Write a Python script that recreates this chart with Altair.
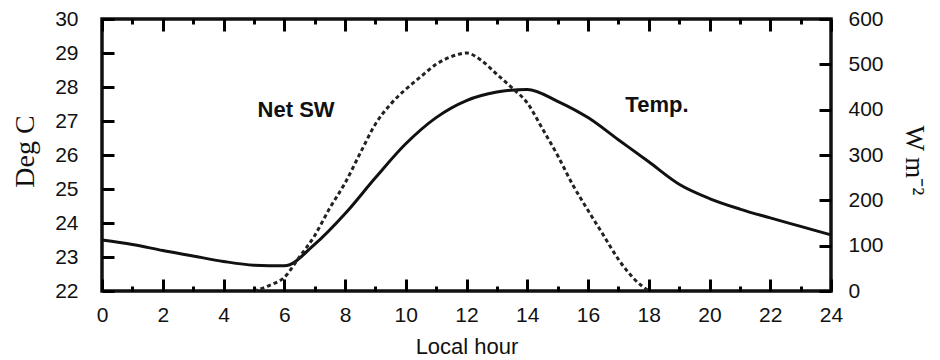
import altair as alt
import pandas as pd

# ---- data ----
hours = list(range(25))
temp_c = [23.50, 23.37, 23.19, 23.03, 22.87, 22.76, 22.74, 23.37, 24.27, 25.33,
          26.33, 27.10, 27.60, 27.85, 27.93, 27.58, 27.10, 26.45, 25.80, 25.14,
          24.72, 24.41, 24.15, 23.90, 23.65]

sw_hours = [5, 5.5, 6, 6.5, 7, 7.5, 8, 8.5, 9, 9.5, 10, 10.5, 11, 11.5, 12,
            12.5, 13, 13.5, 14, 14.5, 15, 15.5, 16, 16.5, 17, 17.5, 18]
net_sw = [0, 12, 30, 75, 122, 183, 238, 304, 368, 412, 445, 473, 500, 517, 525,
          508, 478, 448, 415, 358, 299, 234, 178, 124, 70, 28, 0]

ann_text = ["Net SW", "Temp."]
ann_hour = [6.39, 18.27]
ann_temp = [27.13, 27.27]

x_major = list(range(0, 25, 2))
x_minor = list(range(1, 25, 2))
t_ticks = list(range(22, 31))
w_ticks = list(range(0, 601, 100))

W, H = 729, 272
MAJOR, MINOR = 12, 5

temp_df = pd.DataFrame({"hour": hours, "temp": temp_c})
sw_df = pd.DataFrame({"hour": sw_hours, "sw": net_sw})
ann_df = pd.DataFrame({"label": ann_text, "hour": ann_hour, "temp": ann_temp})

xs = alt.Scale(domain=[0, 24], nice=False)
ts = alt.Scale(domain=[22, 30], nice=False)
ws = alt.Scale(domain=[0, 600], nice=False)

SANS = "Liberation Sans"
SERIF = "Liberation Serif"
INK = "#111"


def tick_axis(orient, values, size, offset):
    # inward ticks: an axis of the opposite side moved across the plot
    return alt.Axis(orient=orient, values=values, tickSize=size, tickWidth=3,
                    tickColor="black", labels=False, domain=False,
                    title=None, offset=offset, zindex=1)


temp_line = alt.Chart(temp_df).mark_line(
    color=INK, strokeWidth=3, interpolate="monotone"
).encode(
    x=alt.X("hour:Q", scale=xs, axis=alt.Axis(
        orient="bottom", values=x_major, ticks=False, domain=False,
        grid=False, labelFont=SANS, labelFontSize=21, labelColor=INK,
        labelPadding=13, labelFlush=False,
        title="Local hour", titleFont=SANS, titleFontSize=22,
        titleFontWeight="normal", titleColor=INK,
        titleX=W / 2, titleY=62, titleBaseline="alphabetic")),
    y=alt.Y("temp:Q", scale=ts, axis=alt.Axis(
        orient="left", values=t_ticks, ticks=False, domain=False,
        grid=False, labelFont=SANS, labelFontSize=21, labelColor=INK,
        labelPadding=24,
        title="Deg C", titleFont=SERIF, titleFontSize=28,
        titleFontWeight="normal", titleColor=INK, titleAngle=-90,
        titleX=-69, titleY=132, titleBaseline="alphabetic", titleAlign="center")),
)

# helper layers carrying the inward tick marks (same pattern that rendered in a test)
ticks_a = alt.Chart(temp_df).mark_line(opacity=0).encode(
    x=alt.X("hour:Q", scale=xs, axis=tick_axis("top", x_minor, MINOR, -H)),
    y=alt.Y("temp:Q", scale=ts, axis=tick_axis("right", t_ticks, MAJOR, -W)),
)
ticks_b = alt.Chart(temp_df).mark_line(opacity=0).encode(
    x=alt.X("hour:Q", scale=xs, axis=tick_axis("bottom", x_major, MAJOR, -H)),
    y=alt.Y("temp:Q", scale=ts, axis=None),
)
ticks_c = alt.Chart(temp_df).mark_line(opacity=0).encode(
    x=alt.X("hour:Q", scale=xs, axis=tick_axis("top", x_major, MAJOR, -H)),
    y=alt.Y("temp:Q", scale=ts, axis=None),
)
ticks_d = alt.Chart(temp_df).mark_line(opacity=0).encode(
    x=alt.X("hour:Q", scale=xs, axis=tick_axis("bottom", x_minor, MINOR, -H)),
    y=alt.Y("temp:Q", scale=ts, axis=None),
)
ticks_e = alt.Chart(sw_df).mark_line(opacity=0).encode(
    x=alt.X("hour:Q", scale=xs, axis=None),
    y=alt.Y("sw:Q", scale=ws, axis=tick_axis("left", w_ticks, MAJOR, -W)),
)

sw_line = alt.Chart(sw_df).mark_line(
    color="#222", strokeWidth=3, strokeDash=[4, 3], interpolate="monotone"
).encode(
    x=alt.X("hour:Q", scale=xs, axis=None),
    y=alt.Y("sw:Q", scale=ws, axis=alt.Axis(
        orient="right", values=w_ticks, ticks=False, domain=False,
        grid=False, labelFont=SANS, labelFontSize=21, labelColor=INK,
        labelPadding=17,
        title="W m⁻²", titleFont=SERIF, titleFontSize=27,
        titleFontWeight="normal", titleColor=INK, titleAngle=90,
        titleX=74, titleY=141, titleBaseline="alphabetic", titleAlign="center")),
)

labels = alt.Chart(ann_df).mark_text(
    font=SANS, fontSize=22, fontWeight="bold", color=INK,
    align="center", baseline="alphabetic"
).encode(
    x=alt.X("hour:Q", scale=xs, axis=None),
    y=alt.Y("temp:Q", scale=ts, axis=None),
    text="label:N",
)

chart = alt.layer(
    temp_line, ticks_a, ticks_b, ticks_c, ticks_d, ticks_e, sw_line, labels
).resolve_scale(
    y="independent"
).resolve_axis(
    x="independent", y="independent"
).properties(
    width=W, height=H,
    autosize=alt.AutoSizeParams(type="none"),
    padding={"left": 94, "top": 11, "right": 101, "bottom": 66},
).configure_view(
    stroke=INK, strokeWidth=3.5
)

chart.save("out.html", embed_options={"renderer": "svg", "actions": False})
